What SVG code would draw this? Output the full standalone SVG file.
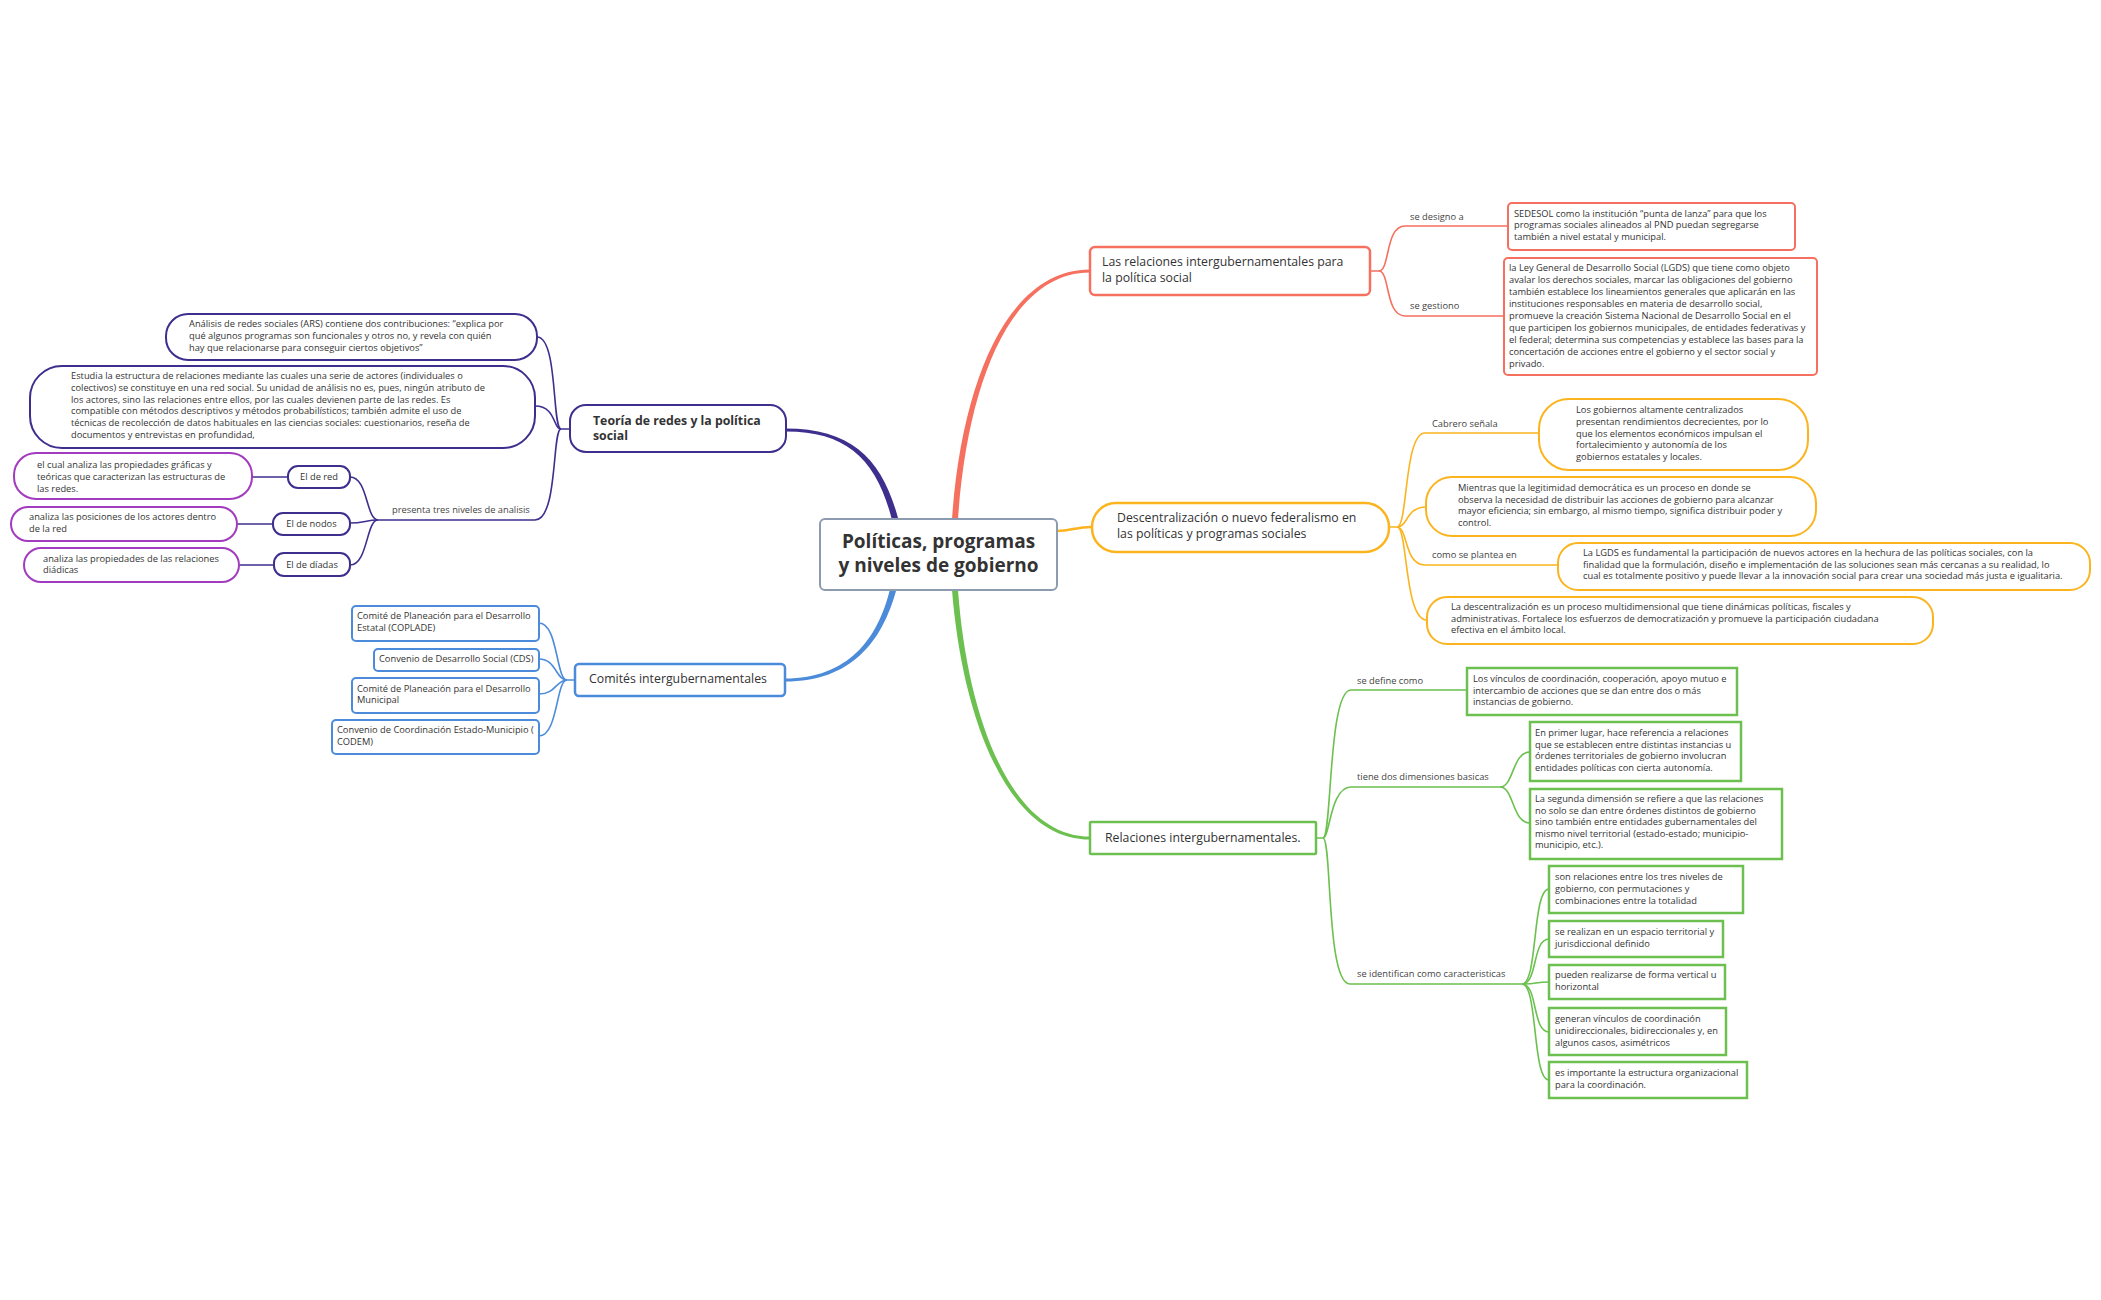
<svg xmlns="http://www.w3.org/2000/svg" width="2101" height="1300" viewBox="0 0 2101 1300">
<style>
text{font-family:"Open Sans","Liberation Sans",sans-serif;fill:#333}
.s{font-size:9.3px}
.l{font-size:9.3px;fill:#444}
.m{font-size:12.3px}
.b{font-weight:bold}
.c{text-anchor:middle}
.box{fill:#fff}
.red{stroke:#F5705F}
.org{stroke:#FBB41E}
.grn{stroke:#6CC04F}
.blu{stroke:#4C8BDA}
.pur{stroke:#3E2F8E}
.mag{stroke:#A23BBF}
.w2{stroke-width:2}
.w25{stroke-width:2.5}
#connectors path{fill:none;stroke-width:1.6}
#connectors path.main{stroke:none}
#connectors path.fr{fill:#F5705F}
#connectors path.fp{fill:#3E2F8E}
#connectors path.fb{fill:#4C8BDA}
#connectors path.fg{fill:#6CC04F}
</style>
<rect width="2101" height="1300" fill="#fff"/>
<g id="connectors">
<path class="main fr" d="M958 519 C967.5 380 1012 272.5 1090 272.5 L1090 269.5 C1008 269.5 962 380 952 519 Z"/>
<path class="main fp" d="M898 518 C882.4 459.4 852 428.5 786 428.5 L786 431.5 C848 431.5 877 460.6 892 520 Z"/>
<path class="main fb" d="M890 589 C878 639 848 678.5 785 678.5 L785 681.5 C852 681.5 882 641 896 591 Z"/>
<path class="main fg" d="M952 590 C962.5 720 1008 839.5 1090 839.5 L1090 836.5 C1012 836.5 967.5 720 958 590 Z"/>
<path class="org" style="stroke-width:2.5" d="M1056 531 C1072 531 1075 527 1092 527"/>
<path class="red" d="M1370 271 L1379 271 C1390 271 1385 226 1405 226 L1508 226"/>
<path class="red" d="M1379 271 C1390 271 1385 316 1405 316 L1504 316"/>
<path class="org" d="M1389 527 L1397 527 C1408 527 1404 433 1425 433 L1539 433"/>
<path class="org" d="M1397 527 C1408 527 1406 507 1426 507"/>
<path class="org" d="M1397 527 C1408 527 1404 565 1425 565 L1558 565"/>
<path class="org" d="M1397 527 C1408 527 1404 620 1427 620"/>
<path class="grn" d="M1316 838 L1323 838 C1332 838 1328 690 1351 690 L1467 690"/>
<path class="grn" d="M1323 838 C1330 838 1330 787 1351 787 L1500 787"/>
<path class="grn" d="M1323 838 C1332 838 1326 984 1350 984 L1522 984"/>
<path class="grn" d="M1500 787 C1514 787 1512 752 1530 752"/>
<path class="grn" d="M1500 787 C1514 787 1512 823 1530 823"/>
<path class="grn" d="M1522 984 C1538 984 1532 889 1549 889"/>
<path class="grn" d="M1522 984 C1538 984 1532 939 1549 939"/>
<path class="grn" d="M1522 984 C1538 984 1534 982 1549 982"/>
<path class="grn" d="M1522 984 C1538 984 1532 1032 1549 1032"/>
<path class="grn" d="M1522 984 C1538 984 1532 1080 1549 1080"/>
<path class="pur" d="M570 429 L561 429 C552 429 558 337 537 337"/>
<path class="pur" d="M561 429 C553 429 556 406 535 406"/>
<path class="pur" d="M561 429 C552 429 558 520 535 520 L378 520"/>
<path class="pur" d="M378 520 C366 520 368 477 350 477"/>
<path class="pur" d="M378 520 C366 520 364 523 350 523"/>
<path class="pur" d="M378 520 C366 520 368 565 350 565"/>
<path class="pur" d="M252 477 L288 477"/>
<path class="pur" d="M237 524 L273 524"/>
<path class="pur" d="M239 565 L274 565"/>
<path class="blu" d="M575 680 L567 680 C556 680 558 623 539 623"/>
<path class="blu" d="M567 680 C556 680 556 659 539 659"/>
<path class="blu" d="M567 680 C556 680 556 694 539 694"/>
<path class="blu" d="M567 680 C556 680 558 736 539 736"/>
</g>
<g id="labels">
<text class="l" x="1410" y="220">se designo a</text>
<text class="l" x="1410" y="309">se gestiono</text>
<text class="l" x="1432" y="427">Cabrero señala</text>
<text class="l" x="1432" y="558">como se plantea en</text>
<text class="l" x="1357" y="684">se define como</text>
<text class="l" x="1357" y="780">tiene dos dimensiones basicas</text>
<text class="l" x="1357" y="977">se identifican como caracteristicas</text>
<text class="l" x="392" y="513">presenta tres niveles de analisis</text>
</g>
<g id="center">
<rect class="box" x="820" y="519" width="237" height="71" rx="5" stroke="#8C9BB0" stroke-width="2"/>
<text class="b c" style="font-size:19px" x="938.5" y="548">Políticas, programas</text>
<text class="b c" style="font-size:19px" x="938.5" y="572">y niveles de gobierno</text>
</g>
<g id="n-red">
<rect class="box red w25" x="1090" y="247" width="280" height="48" rx="5"/>
<text class="m" x="1102" y="266">Las relaciones intergubernamentales para</text>
<text class="m" x="1102" y="282">la política social</text>
</g>
<g id="n-sedesol">
<rect class="box red w2" x="1508" y="203" width="287" height="47" rx="4"/>
<text class="s" x="1514" y="216.5">SEDESOL como la institución “punta de lanza” para que los</text>
<text class="s" x="1514" y="228">programas sociales alineados al PND puedan segregarse</text>
<text class="s" x="1514" y="239.5">también a nivel estatal y municipal.</text>
</g>
<g id="n-lgds">
<rect class="box red w2" x="1504" y="258" width="313" height="117" rx="4"/>
<text class="s" x="1509" y="271">la Ley General de Desarrollo Social (LGDS) que tiene como objeto</text>
<text class="s" x="1509" y="283">avalar los derechos sociales, marcar las obligaciones del gobierno</text>
<text class="s" x="1509" y="295">también establece los lineamientos generales que aplicarán en las</text>
<text class="s" x="1509" y="307">instituciones responsables en materia de desarrollo social,</text>
<text class="s" x="1509" y="319">promueve la creación Sistema Nacional de Desarrollo Social en el</text>
<text class="s" x="1509" y="331">que participen los gobiernos municipales, de entidades federativas y</text>
<text class="s" x="1509" y="343">el federal; determina sus competencias y establece las bases para la</text>
<text class="s" x="1509" y="355">concertación de acciones entre el gobierno y el sector social y</text>
<text class="s" x="1509" y="367">privado.</text>
</g>
<g id="n-orange">
<rect class="box org w25" x="1092" y="503" width="297" height="49" rx="24"/>
<text class="m" x="1117" y="522">Descentralización o nuevo federalismo en</text>
<text class="m" x="1117" y="538">las políticas y programas sociales</text>
</g>
<g id="n-cabrero">
<rect class="box org w2" x="1539" y="399" width="269" height="71" rx="30"/>
<text class="s" x="1576" y="413">Los gobiernos altamente centralizados</text>
<text class="s" x="1576" y="425">presentan rendimientos decrecientes, por lo</text>
<text class="s" x="1576" y="436.5">que los elementos económicos impulsan el</text>
<text class="s" x="1576" y="448">fortalecimiento y autonomía de los</text>
<text class="s" x="1576" y="460">gobiernos estatales y locales.</text>
</g>
<g id="n-mientras">
<rect class="box org w2" x="1426" y="477" width="390" height="59" rx="26"/>
<text class="s" x="1458" y="491">Mientras que la legitimidad democrática es un proceso en donde se</text>
<text class="s" x="1458" y="502.5">observa la necesidad de distribuir las acciones de gobierno para alcanzar</text>
<text class="s" x="1458" y="514">mayor eficiencia; sin embargo, al mismo tiempo, significa distribuir poder y</text>
<text class="s" x="1458" y="526">control.</text>
</g>
<g id="n-lgds2">
<rect class="box org w2" x="1558" y="543" width="532" height="47" rx="20"/>
<text class="s" x="1583" y="556">La LGDS es fundamental la participación de nuevos actores en la hechura de las políticas sociales, con la</text>
<text class="s" x="1583" y="567.5">finalidad que la formulación, diseño e implementación de las soluciones sean más cercanas a su realidad, lo</text>
<text class="s" x="1583" y="579">cual es totalmente positivo y puede llevar a la innovación social para crear una sociedad más justa e igualitaria.</text>
</g>
<g id="n-descentral">
<rect class="box org w2" x="1427" y="597" width="506" height="47" rx="20"/>
<text class="s" x="1451" y="610">La descentralización es un proceso multidimensional que tiene dinámicas políticas, fiscales y</text>
<text class="s" x="1451" y="621.5">administrativas. Fortalece los esfuerzos de democratización y promueve la participación ciudadana</text>
<text class="s" x="1451" y="633">efectiva en el ámbito local.</text>
</g>
<g id="n-green">
<rect class="box grn w25" x="1090" y="822" width="226" height="32" rx="1"/>
<text class="m" x="1105" y="842">Relaciones intergubernamentales.</text>
</g>
<g id="n-vinculos">
<rect class="box grn w25" x="1467" y="668" width="270" height="47"/>
<text class="s" x="1473" y="682">Los vínculos de coordinación, cooperación, apoyo mutuo e</text>
<text class="s" x="1473" y="693.5">intercambio de acciones que se dan entre dos o más</text>
<text class="s" x="1473" y="705">instancias de gobierno.</text>
</g>
<g id="n-dimA">
<rect class="box grn w25" x="1530" y="722" width="211" height="59"/>
<text class="s" x="1535" y="736">En primer lugar, hace referencia a relaciones</text>
<text class="s" x="1535" y="747.5">que se establecen entre distintas instancias u</text>
<text class="s" x="1535" y="759">órdenes territoriales de gobierno involucran</text>
<text class="s" x="1535" y="770.5">entidades políticas con cierta autonomía.</text>
</g>
<g id="n-dimB">
<rect class="box grn w25" x="1530" y="789" width="252" height="70"/>
<text class="s" x="1535" y="802">La segunda dimensión se refiere a que las relaciones</text>
<text class="s" x="1535" y="813.5">no solo se dan entre órdenes distintos de gobierno</text>
<text class="s" x="1535" y="825">sino también entre entidades gubernamentales del</text>
<text class="s" x="1535" y="836.5">mismo nivel territorial (estado-estado; municipio-</text>
<text class="s" x="1535" y="848">municipio, etc.).</text>
</g>
<g id="n-car1">
<rect class="box grn w25" x="1549" y="866" width="194" height="47"/>
<text class="s" x="1555" y="880">son relaciones entre los tres niveles de</text>
<text class="s" x="1555" y="892">gobierno, con permutaciones y</text>
<text class="s" x="1555" y="904">combinaciones entre la totalidad</text>
</g>
<g id="n-car2">
<rect class="box grn w25" x="1549" y="921" width="174" height="36"/>
<text class="s" x="1555" y="935">se realizan en un espacio territorial y</text>
<text class="s" x="1555" y="947">jurisdiccional definido</text>
</g>
<g id="n-car3">
<rect class="box grn w25" x="1549" y="965" width="176" height="34"/>
<text class="s" x="1555" y="978">pueden realizarse de forma vertical u</text>
<text class="s" x="1555" y="990">horizontal</text>
</g>
<g id="n-car4">
<rect class="box grn w25" x="1549" y="1008" width="177" height="47"/>
<text class="s" x="1555" y="1022">generan vínculos de coordinación</text>
<text class="s" x="1555" y="1034">unidireccionales, bidireccionales y, en</text>
<text class="s" x="1555" y="1046">algunos casos, asimétricos</text>
</g>
<g id="n-car5">
<rect class="box grn w25" x="1549" y="1062" width="198" height="36"/>
<text class="s" x="1555" y="1076">es importante la estructura organizacional</text>
<text class="s" x="1555" y="1088">para la coordinación.</text>
</g>
<g id="n-teoria">
<rect class="box pur w2" x="570" y="405" width="216" height="47" rx="16"/>
<text class="m b" x="593" y="425">Teoría de redes y la política</text>
<text class="m b" x="593" y="440">social</text>
</g>
<g id="n-ars">
<rect class="box pur w2" x="166" y="314" width="371" height="46" rx="22"/>
<text class="s" x="189" y="327">Análisis de redes sociales (ARS) contiene dos contribuciones: “explica por</text>
<text class="s" x="189" y="339">qué algunos programas son funcionales y otros no, y revela con quién</text>
<text class="s" x="189" y="351">hay que relacionarse para conseguir ciertos objetivos”</text>
</g>
<g id="n-estudia">
<rect class="box pur w2" x="30" y="366" width="505" height="82" rx="32"/>
<text class="s" x="71" y="379">Estudia la estructura de relaciones mediante las cuales una serie de actores (individuales o</text>
<text class="s" x="71" y="391">colectivos) se constituye en una red social. Su unidad de análisis no es, pues, ningún atributo de</text>
<text class="s" x="71" y="402.5">los actores, sino las relaciones entre ellos, por las cuales devienen parte de las redes. Es</text>
<text class="s" x="71" y="414">compatible con métodos descriptivos y métodos probabilísticos; también admite el uso de</text>
<text class="s" x="71" y="426">técnicas de recolección de datos habituales en las ciencias sociales: cuestionarios, reseña de</text>
<text class="s" x="71" y="437.5">documentos y entrevistas en profundidad,</text>
</g>
<g id="n-red-level">
<rect class="box pur w2" x="288" y="466" width="62" height="22" rx="10"/>
<text class="s c" x="319" y="480">El de red</text>
</g>
<g id="n-nodos">
<rect class="box pur w2" x="273" y="513" width="77" height="22" rx="10"/>
<text class="s c" x="311.5" y="527">El de nodos</text>
</g>
<g id="n-diadas">
<rect class="box pur w2" x="274" y="553" width="76" height="23" rx="10"/>
<text class="s c" x="312" y="568">El de díadas</text>
</g>
<g id="n-red-desc">
<rect class="box mag w2" x="14" y="453" width="238" height="46" rx="22"/>
<text class="s" x="37" y="468">el cual analiza las propiedades gráficas y</text>
<text class="s" x="37" y="480">teóricas que caracterizan las estructuras de</text>
<text class="s" x="37" y="492">las redes.</text>
</g>
<g id="n-nodos-desc">
<rect class="box mag w2" x="11" y="507" width="226" height="34" rx="17"/>
<text class="s" x="29" y="520">analiza las posiciones de los actores dentro</text>
<text class="s" x="29" y="532">de la red</text>
</g>
<g id="n-diadas-desc">
<rect class="box mag w2" x="24" y="548" width="215" height="34" rx="17"/>
<text class="s" x="43" y="562">analiza las propiedades de las relaciones</text>
<text class="s" x="43" y="573">diádicas</text>
</g>
<g id="n-comites">
<rect class="box blu w25" x="575" y="664" width="210" height="32" rx="4"/>
<text class="m" x="589" y="683">Comités intergubernamentales</text>
</g>
<g id="n-coplade">
<rect class="box blu w2" x="352" y="606" width="187" height="35" rx="4"/>
<text class="s" x="357" y="619">Comité de Planeación para el Desarrollo</text>
<text class="s" x="357" y="631">Estatal (COPLADE)</text>
</g>
<g id="n-cds">
<rect class="box blu w2" x="374" y="649" width="165" height="22" rx="4"/>
<text class="s" x="379" y="662">Convenio de Desarrollo Social (CDS)</text>
</g>
<g id="n-municipal">
<rect class="box blu w2" x="352" y="678" width="187" height="35" rx="4"/>
<text class="s" x="357" y="692">Comité de Planeación para el Desarrollo</text>
<text class="s" x="357" y="703">Municipal</text>
</g>
<g id="n-codem">
<rect class="box blu w2" x="332" y="720" width="207" height="34" rx="4"/>
<text class="s" x="337" y="733">Convenio de Coordinación Estado-Municipio (</text>
<text class="s" x="337" y="745">CODEM)</text>
</g>
</svg>
